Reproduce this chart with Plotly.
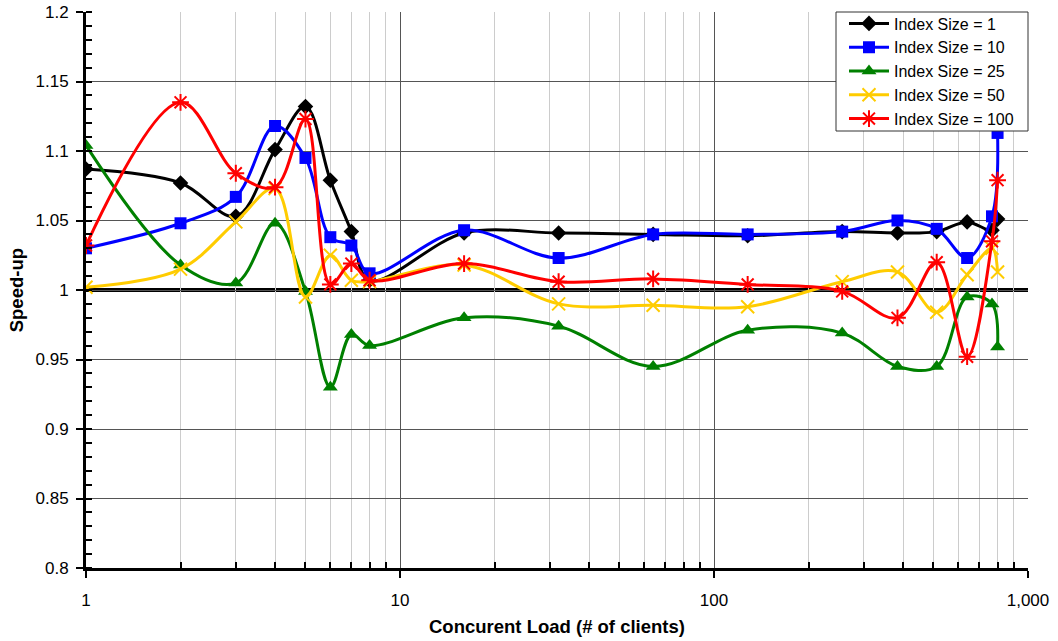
import plotly.graph_objects as go

clients = [1, 2, 3, 4, 5, 6, 7, 8, 16, 32, 64, 128, 256, 384, 512, 640, 768, 800]

idx1 = [1.087, 1.077, 1.053, 1.101, 1.132, 1.079, 1.042, 1.007, 1.041, 1.041, 1.040, 1.039,
        1.042, 1.041, 1.042, 1.049, 1.043, 1.051]
idx10 = [1.030, 1.048, 1.067, 1.118, 1.095, 1.038, 1.032, 1.012, 1.043, 1.023, 1.040, 1.040,
         1.042, 1.050, 1.044, 1.023, 1.053, 1.113]
idx25 = [1.104, 1.018, 1.005, 1.048, 0.999, 0.930, 0.968, 0.960, 0.980, 0.974, 0.945, 0.971,
         0.969, 0.945, 0.945, 0.995, 0.990, 0.959]
idx50 = [1.002, 1.015, 1.049, 1.073, 0.995, 1.025, 1.007, 1.006, 1.018, 0.990, 0.989, 0.988,
         1.006, 1.013, 0.984, 1.011, 1.030, 1.013]
idx100 = [1.032, 1.135, 1.084, 1.074, 1.123, 1.004, 1.019, 1.007, 1.019, 1.006, 1.008, 1.004,
          0.999, 0.980, 1.020, 0.952, 1.035, 1.079]

series_names = ["Index Size = 1", "Index Size = 10", "Index Size = 25", "Index Size = 50", "Index Size = 100"]
series_values = [idx1, idx10, idx25, idx50, idx100]
colors = ["#000000", "#0000FF", "#008000", "#FFCC00", "#FF0000"]
symbols = ["diamond", "square", "triangle-up", "x-thin-open", "asterisk-open"]
msizes = [12, 12, 13, 13, 14]

x_tickvals = [1, 10, 100, 1000]
x_ticktext = ["1", "10", "100", "1,000"]
x_minor = [m * d for d in (1, 10, 100) for m in range(2, 10)]
y_tickvals = [0.8, 0.85, 0.9, 0.95, 1.0, 1.05, 1.1, 1.15, 1.2]
y_ticktext = ["0.8", "0.85", "0.9", "0.95", "1", "1.05", "1.1", "1.15", "1.2"]

FONT = "Liberation Sans, Arial, sans-serif"

fig = go.Figure()
for name, vals, c, s, ms in zip(series_names, series_values, colors, symbols, msizes):
    marker = dict(symbol=s, size=ms, color=c)
    if s.endswith("open"):
        marker["line"] = dict(color=c, width=2)
    fig.add_trace(go.Scatter(
        x=clients, y=vals, name=name, mode="lines+markers",
        line=dict(color=c, width=3, shape="spline", smoothing=1.0),
        marker=marker,
    ))

fig.add_hline(y=1.0, line=dict(color="black", width=4), layer="below")

# legend frame (white box with dark border)
fig.add_shape(type="rect", xref="paper", yref="paper",
              x0=(836 - 86) / 942, x1=1.0, y0=(568 - 131) / 556, y1=1.0,
              fillcolor="white", line=dict(color="#333333", width=1), layer="above")

fig.add_annotation(text="<b>Concurent Load (# of clients)</b>", xref="paper", yref="paper",
                   x=0.5, y=-0.105, xanchor="center", yanchor="middle", showarrow=False,
                   font=dict(family=FONT, size=18.5, color="black"))
fig.add_annotation(text="<b>Speed-up</b>", xref="paper", yref="paper",
                   x=-0.074, y=0.5, xanchor="center", yanchor="middle", showarrow=False,
                   textangle=-90, font=dict(family=FONT, size=18.5, color="black"))

fig.update_layout(
    width=1058, height=641,
    margin=dict(l=86, r=30, t=12, b=73, autoexpand=False),
    paper_bgcolor="white", plot_bgcolor="white",
    font=dict(family=FONT, size=17, color="black"),
    showlegend=True,
    legend=dict(xref="container", yref="container",
                x=844 / 1058, xanchor="left", y=1 - 6.5 / 641, yanchor="top",
                bgcolor="rgba(0,0,0,0)", borderwidth=0,
                font=dict(family=FONT, size=16), tracegroupgap=0,
                itemwidth=40),
    xaxis=dict(
        type="log", range=[0, 3.0], automargin=False,
        tickvals=x_tickvals, ticktext=x_ticktext,
        ticks="outside", ticklen=7, tickwidth=2, tickcolor="black",
        showline=True, linecolor="black", linewidth=3,
        showgrid=True, gridcolor="#555555", gridwidth=1,
        zeroline=False,
        minor=dict(tickvals=x_minor, ticks="inside", ticklen=6, tickwidth=2,
                   tickcolor="black", showgrid=True, gridcolor="#cccccc", gridwidth=1),
        tickfont=dict(size=17),
        ticklabelstandoff=8,
    ),
    yaxis=dict(
        range=[0.8, 1.2], automargin=False,
        tickvals=y_tickvals, ticktext=y_ticktext,
        ticks="outside", ticklen=7, tickwidth=2, tickcolor="black",
        showline=True, linecolor="black", linewidth=3,
        showgrid=True, gridcolor="#555555", gridwidth=1,
        zeroline=False,
        minor=dict(dtick=0.01, tick0=0.8, ticks="inside", ticklen=6, tickwidth=2,
                   tickcolor="black", showgrid=False),
        tickfont=dict(size=17),
        ticklabelstandoff=4,
    ),
)

fig.write_html("out.html")
